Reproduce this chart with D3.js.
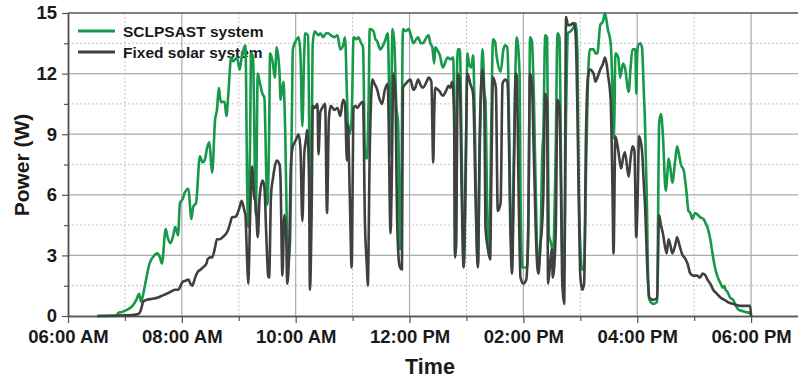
<!DOCTYPE html>
<html><head><meta charset="utf-8">
<script src="https://cdn.jsdelivr.net/npm/d3@7"></script>
<style>body{margin:0;background:#fff}svg{display:block;font-family:"Liberation Sans",Arial,sans-serif}</style>
</head><body><svg id="c" width="798" height="379"></svg>
<script>
// time in minutes after midnight, power in W
const greenTime = [391,411,413,417,422,428,432,435,437,441,446,451,454,457,459,463,465,468,471,473,476,478,481,483,487,489,490,492,495,499,502,504,507,509,511,512,515,517,519,521,525,527,529,532,534,536,538,541,543,547,549,550,552,553,555,558,560,562,565,567,569,570,572,573,576,578,580,583,584,587,589,591,592,594,596,597,600,603,605,607,609,610,613,615,616,618,620,624,626,629,632,634,637,641,644,647,650,652,654,655,657,659,661,664,666,669,671,673,675,677,678,682,684,686,689,691,694,697,700,702,704,706,708,710,711,713,716,719,722,724,727,729,732,734,738,740,742,744,746,747,750,752,755,758,760,763,766,767,768,769,770,771,773,775,777,779,781,783,785,787,789,791,792,794,797,799,800,802,804,806,808,810,812,816,819,821,823,824,826,828,830,833,836,837,839,844,846,847,849,851,854,856,858,860,861,863,865,866,867,868,870,871,874,876,878,880,881,883,885,887,890,893,895,897,898,900,902,904,906,908,910,914,916,918,921,924,926,929,932,934,935,936,937,940,942,945,947,951,953,955,958,959,960,961,963,965,967,968,970,972,973,977,981,982,983,985,987,990,992,993,995,997,1000,1002,1004,1006,1009,1012,1014,1016,1018,1021,1024,1026,1030,1032,1034,1037,1040,1043,1045,1048,1050,1052,1053,1055,1056,1058,1061,1064,1067,1071,1074,1079,1080];
const greenPower = [0,0,0.15,0.2,0.3,0.5,0.8,1.1,0.7,1.5,2.6,3.0,3.1,2.9,2.6,4.3,3.9,3.6,4.0,4.4,4.0,5.6,5.8,6.1,6.3,5.2,4.8,5.4,5.6,7.9,7.6,7.7,8.4,8.6,7.5,7.1,9.7,10.2,11.3,10.6,10.6,9.9,11.0,12.8,12.6,12.7,12.8,12.2,12.8,13.4,6.0,4.4,9.0,13.0,12.8,5.0,12.0,11.6,11.0,10.8,7.0,5.5,9,13.0,12.5,11.8,13.3,12.0,10.7,11.6,9,3.6,2.6,3.6,10,13.2,13.6,13.8,13.0,9.4,13,14.0,13.9,6,4.5,13.5,14.1,13.9,14.0,13.8,14.0,14.0,13.9,13.8,13.9,13.2,13.4,13.8,11,9.5,9.0,9.8,13.8,13.7,13.8,13.5,13.3,8.0,7.8,11,14.2,14.1,13.7,13.6,13.2,13.3,13.6,14.0,8,14.2,13.5,10.5,9.5,3.3,4,14.2,14.1,14.2,13.8,13.5,13.7,13.8,13.5,13.5,13.8,13.9,13.5,13.3,12.5,13.3,13.1,12.9,12.3,12.6,12.8,12.7,12.8,10,3.0,3.5,12,13.2,13.2,8,2.5,6,13.0,12.4,12.3,12.9,9,3.5,2.5,8,13.2,11,10.7,5,3,9,13.7,13.6,12.8,12.1,13.2,13.4,13.3,12.2,6,2.8,8,13.8,12,6,2.4,2.4,8,13.8,13.6,11,4,2.4,3.6,8.2,9,13.9,13.8,8,4,3.8,3.4,2.8,8,14.0,13.8,6,3,2.5,10,14.0,14.1,14.3,14.5,13,8,3.5,2.3,2.3,7,11.5,13.2,13.2,13.0,13.0,14.4,14.6,15.0,14.2,13.5,11,8.8,10,13.0,12.8,11.8,12.5,12.3,11.1,12.3,13.2,13.2,11,13,13.4,13.5,13.3,11,9.9,6,1.0,0.8,0.6,0.7,5,9.5,10,9.0,6.2,7.2,7.8,7.3,6.6,7.7,8.4,8.0,7.5,7.2,6.1,5.2,5.1,4.8,5.1,5.0,4.9,4.8,4.6,4.4,3.8,2.9,2.2,1.9,1.6,1.4,1.5,1.3,1.2,1.1,0.9,0.8,0.5,0.3,0.25,0.2,0.15,0];
const fixedTime = [391,428,434,436,438,439,443,449,454,459,464,468,473,476,481,484,487,489,491,494,497,500,502,506,507,510,512,515,517,520,523,527,529,531,533,536,538,541,543,546,547,549,550,552,554,556,558,560,562,565,567,569,571,572,574,576,578,580,583,584,586,588,590,591,593,595,597,599,601,603,605,607,609,611,612,614,615,617,618,620,623,624,626,628,631,633,635,637,641,644,647,650,652,654,655,657,659,661,663,665,668,671,673,675,676,678,681,683,686,688,691,694,697,700,701,703,705,707,709,710,712,713,716,721,724,726,729,732,734,738,740,743,745,746,747,750,752,755,759,761,763,765,767,768,769,771,773,775,777,779,781,784,787,790,792,794,797,799,800,802,805,806,808,811,813,816,818,821,823,824,826,828,830,832,833,835,837,840,843,845,847,849,851,854,855,856,858,859,861,863,865,866,868,870,871,874,876,878,880,881,883,885,887,889,893,895,897,899,900,902,904,906,908,910,914,916,918,921,924,926,928,929,932,934,935,937,940,943,945,947,951,953,955,957,959,960,962,965,967,968,971,973,977,981,983,985,987,991,993,995,997,1000,1002,1004,1007,1011,1013,1016,1019,1023,1026,1029,1032,1034,1037,1040,1044,1048,1052,1055,1061,1069,1079,1080];
const fixedPower = [0,0.05,0.1,0.2,0.5,0.7,0.8,0.85,0.9,1.0,1.1,1.2,1.3,1.3,1.7,1.75,1.8,1.6,1.5,1.9,2.2,2.3,2.4,2.6,2.8,2.9,2.9,3.4,3.8,3.8,3.9,4.1,4.3,4.6,4.9,4.9,5.0,5.4,5.7,5.2,5.0,2.5,1.6,5.0,7.4,6.0,5.5,3.9,5.9,6.7,6.4,4,2.0,1.9,6,6.8,7.4,7.7,7.5,6.8,2.0,5,4,1.6,3,7.5,8.4,8.6,8.8,9.0,8.3,4.7,8,8.8,9.2,7,1.3,6,10.4,10.3,10.5,8.0,10.1,10.3,10.5,5.1,9.8,10.4,10.2,10.3,9.9,10.7,10.5,7.7,9.5,6,2.4,10.3,10.4,10.3,10.5,10.6,4.6,2.5,1.5,8,11.7,11.5,11.2,10.8,10.5,11.2,11.5,4.1,6,12.0,11,4.6,2.6,2.4,2.3,11.3,11.5,11.7,11.2,11.3,11.7,11.4,11.3,11.6,11.8,11.6,7.6,10,11.3,11.2,11.1,10.9,11.2,11.4,11.3,11.6,10,2.9,3.5,12.0,11.5,6,2.4,7,12.0,11.5,11.0,5,2.4,9,12.2,10,4.4,3.5,2.8,6,11.8,11.3,5.2,5.6,11.5,11.7,11.6,10.8,5,2.1,7,12.0,11.9,6,1.9,1.6,1.8,4,12.0,11.5,8,3,2.3,2.1,3.6,4.0,5.9,11.0,10.5,1.6,2.5,3.3,1.9,4,10.7,10.4,5,1.6,0.6,14.8,14.4,14.4,14.5,14.0,10,4,2.0,1.3,1.6,9,11.8,12.2,12.0,11.6,11.8,12.2,12.5,12.8,12.4,12.0,10.7,6,3.1,8.9,8.2,7.3,7.8,8.1,6.9,7.8,8.4,8.2,3.9,5,8.9,8.2,6.5,5.7,2,0.9,0.8,0.9,5.0,4.5,4.1,3.1,3.8,3.5,3.1,3.5,3.9,3.6,3.1,2.8,2.6,2.1,2.0,2.0,1.9,2.1,2.0,1.8,1.6,1.3,1.1,0.9,0.8,0.7,0.6,0.5,0.5,0];
const seriesNames = ["SCLPSAST system", "Fixed solar system"];
const seriesColors = ["#17994a", "#404040"];
const xMajorTicks = [360, 480, 600, 720, 840, 960, 1080];
const xTickLabels = ["06:00 AM", "08:00 AM", "10:00 AM", "12:00 PM", "02:00 PM", "04:00 PM", "06:00 PM"];
const xMinorTicks = [420, 540, 660, 780, 900, 1020, 1140];
const yMajorTicks = [0, 3, 6, 9, 12, 15];
const yMinorTicks = [1.5, 4.5, 7.5, 10.5, 13.5];

const svg = d3.select("#c");
const L = 68, R = 808, T = 13, B = 316;
const x = d3.scaleLinear().domain([360, 1140]).range([L, R]);
const y = d3.scaleLinear().domain([0, 15]).range([B, T]);

// grid
const g = svg.append("g");
g.selectAll(".mnx").data(xMinorTicks).join("line")
  .attr("x1", d => x(d)).attr("x2", d => x(d)).attr("y1", T).attr("y2", B)
  .attr("stroke", "#c4c4c4").attr("stroke-width", 1).attr("stroke-dasharray", "2,2");
g.selectAll(".mny").data(yMinorTicks).join("line")
  .attr("x1", L).attr("x2", 798).attr("y1", d => y(d)).attr("y2", d => y(d))
  .attr("stroke", "#c4c4c4").attr("stroke-width", 1).attr("stroke-dasharray", "2,2");
g.selectAll(".mjx").data(xMajorTicks.slice(1)).join("line")
  .attr("x1", d => x(d)).attr("x2", d => x(d)).attr("y1", T).attr("y2", B)
  .attr("stroke", "#aaaaaa").attr("stroke-width", 1.2);
g.selectAll(".mjy").data(yMajorTicks.slice(1, -1)).join("line")
  .attr("x1", L).attr("x2", 798).attr("y1", d => y(d)).attr("y2", d => y(d))
  .attr("stroke", "#aaaaaa").attr("stroke-width", 1.2);
// top frame
svg.append("line").attr("x1", L).attr("x2", 798).attr("y1", y(15)).attr("y2", y(15))
  .attr("stroke", "#555").attr("stroke-width", 1.5);

// axes
const xAxis = svg.append("g").attr("transform", `translate(0,${B})`)
  .call(d3.axisBottom(x).tickValues(xMajorTicks).tickFormat((d, i) => xTickLabels[i]).tickSize(7).tickSizeOuter(0));
svg.append("g").attr("transform", `translate(0,${B})`)
  .call(d3.axisBottom(x).tickValues(xMinorTicks).tickFormat("").tickSize(5).tickSizeOuter(0));
const yAxis = svg.append("g").attr("transform", `translate(${L},0)`)
  .call(d3.axisLeft(y).tickValues(yMajorTicks).tickSize(6).tickSizeOuter(0));
svg.append("g").attr("transform", `translate(${L},0)`)
  .call(d3.axisLeft(y).tickValues(yMinorTicks).tickFormat("").tickSize(4).tickSizeOuter(0));
svg.selectAll(".domain").attr("stroke", "#555").attr("stroke-width", 1.5);
svg.selectAll(".tick line").attr("stroke", "#555").attr("stroke-width", 1.2);
xAxis.select(".domain").attr("d", `M${L},0.5H798`);
xAxis.selectAll("text").attr("font-size", 18.5).attr("font-weight", "bold").attr("fill", "#1a1a1a")
  .attr("font-family", "Liberation Sans, Arial, sans-serif").attr("dy", "0").attr("y", 27);
yAxis.selectAll("text").attr("font-size", 18.5).attr("font-weight", "bold").attr("fill", "#1a1a1a")
  .attr("font-family", "Liberation Sans, Arial, sans-serif").attr("x", -11);

// axis titles
svg.append("text").attr("x", 430).attr("y", 374).attr("text-anchor", "middle")
  .attr("font-size", 21.5).attr("font-weight", "bold").attr("fill", "#1a1a1a").text("Time");
svg.append("text").attr("transform", "translate(29,165) rotate(-90)").attr("text-anchor", "middle")
  .attr("font-size", 21).attr("font-weight", "bold").attr("fill", "#1a1a1a").text("Power (W)");

// legend
seriesNames.forEach((n, i) => {
  const ly = 31 + i * 21;
  svg.append("line").attr("x1", 78).attr("x2", 115).attr("y1", ly).attr("y2", ly)
    .attr("stroke", seriesColors[i]).attr("stroke-width", 2.8);
  svg.append("text").attr("x", 123).attr("y", ly + 5.5).attr("font-size", 15.5)
    .attr("font-weight", "bold").attr("fill", "#1a1a1a").text(n);
});

// lines
const line = d3.line().x(d => x(d[0])).y(d => y(d[1])).curve(d3.curveMonotoneX);
const gData = greenTime.map((t, i) => [t, greenPower[i]]);
const fData = fixedTime.map((t, i) => [t, fixedPower[i]]);
svg.append("path").datum(gData).attr("d", line).attr("fill", "none")
  .attr("stroke", seriesColors[0]).attr("stroke-width", 2.6).attr("stroke-linejoin", "round");
svg.append("path").datum(fData).attr("d", line).attr("fill", "none")
  .attr("stroke", seriesColors[1]).attr("stroke-width", 2.6).attr("stroke-linejoin", "round");
</script></body></html>
